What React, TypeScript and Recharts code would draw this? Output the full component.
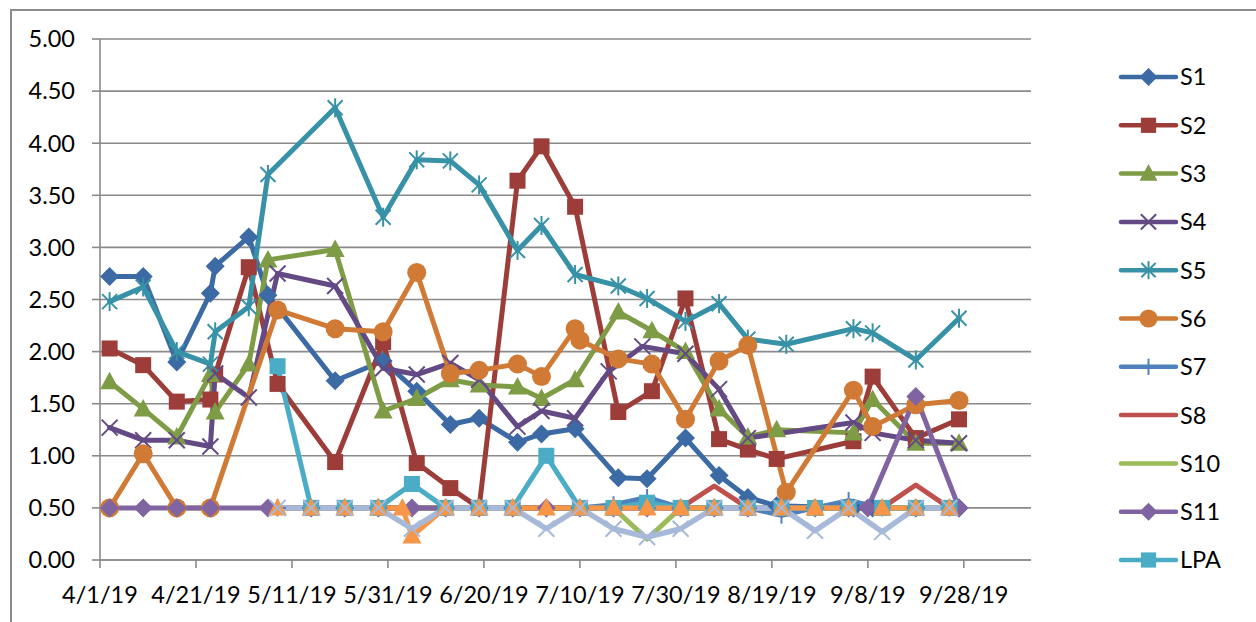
import React from "react";
import { LineChart, Line, XAxis, YAxis, CartesianGrid, Legend } from "recharts";

type Pt = [string, number];

// ---- data (dates are M/D in 2019) ----
const S1: Pt[] = [
  ["4/3", 2.72], ["4/10", 2.72], ["4/17", 1.9], ["4/24", 2.56], ["4/25", 2.82], ["5/2", 3.1], ["5/6", 2.54],
  ["5/20", 1.72], ["5/30", 1.91], ["6/6", 1.62], ["6/13", 1.3], ["6/19", 1.36], ["6/27", 1.13], ["7/2", 1.21],
  ["7/9", 1.26], ["7/18", 0.79], ["7/24", 0.78], ["8/1", 1.17], ["8/8", 0.81], ["8/14", 0.6], ["8/20", 0.52],
  ["9/5", 0.5], ["9/9", 0.5], ["9/18", 0.5], ["9/27", 0.5],
];
const S2: Pt[] = [
  ["4/3", 2.03], ["4/10", 1.87], ["4/17", 1.52], ["4/24", 1.54], ["4/25", 1.78], ["5/2", 2.81], ["5/8", 1.69],
  ["5/20", 0.94], ["5/30", 2.09], ["6/6", 0.93], ["6/13", 0.69], ["6/19", 0.5], ["6/27", 3.64], ["7/2", 3.97],
  ["7/9", 3.39], ["7/18", 1.42], ["7/25", 1.62], ["8/1", 2.51], ["8/8", 1.16], ["8/14", 1.06], ["8/20", 0.97],
  ["9/5", 1.14], ["9/9", 1.76], ["9/18", 1.17], ["9/27", 1.35],
];
const S3: Pt[] = [
  ["4/3", 1.71], ["4/10", 1.45], ["4/17", 1.18], ["4/24", 1.78], ["4/25", 1.42], ["5/2", 1.88], ["5/6", 2.88],
  ["5/20", 2.98], ["5/30", 1.43], ["6/6", 1.55], ["6/13", 1.73], ["6/19", 1.68], ["6/27", 1.66], ["7/2", 1.55],
  ["7/9", 1.73], ["7/18", 2.38], ["7/25", 2.2], ["8/1", 2.0], ["8/8", 1.45], ["8/14", 1.18], ["8/20", 1.25],
  ["9/5", 1.22], ["9/9", 1.54], ["9/18", 1.12], ["9/27", 1.12],
];
const S4: Pt[] = [
  ["4/3", 1.27], ["4/10", 1.15], ["4/17", 1.15], ["4/24", 1.09], ["4/25", 1.79], ["5/2", 1.56], ["5/8", 2.75],
  ["5/20", 2.63], ["5/30", 1.84], ["6/6", 1.78], ["6/13", 1.89], ["6/19", 1.73], ["6/27", 1.28], ["7/2", 1.43],
  ["7/9", 1.36], ["7/16", 1.81], ["7/23", 2.05], ["8/1", 1.98], ["8/8", 1.64], ["8/14", 1.17],
  ["9/5", 1.32], ["9/9", 1.22], ["9/18", 1.15], ["9/27", 1.12],
];
const S5: Pt[] = [
  ["4/3", 2.48], ["4/10", 2.62], ["4/17", 2.0], ["4/24", 1.88], ["4/25", 2.19], ["5/2", 2.43], ["5/6", 3.7],
  ["5/20", 4.34], ["5/30", 3.29], ["6/6", 3.84], ["6/13", 3.83], ["6/19", 3.6], ["6/27", 2.97], ["7/2", 3.21],
  ["7/9", 2.74], ["7/18", 2.63], ["7/24", 2.51], ["8/1", 2.29], ["8/8", 2.46], ["8/14", 2.12], ["8/22", 2.07],
  ["9/5", 2.22], ["9/9", 2.18], ["9/18", 1.92], ["9/27", 2.32],
];
const S6: Pt[] = [
  ["4/3", 0.5], ["4/10", 1.02], ["4/17", 0.5], ["4/24", 0.5], ["5/8", 2.4],
  ["5/20", 2.22], ["5/30", 2.19], ["6/6", 2.76], ["6/13", 1.79], ["6/19", 1.82], ["6/27", 1.88], ["7/2", 1.76],
  ["7/9", 2.22], ["7/10", 2.11], ["7/18", 1.93], ["7/25", 1.88], ["8/1", 1.35], ["8/8", 1.91], ["8/14", 2.06],
  ["8/22", 0.65], ["9/5", 1.63], ["9/9", 1.28], ["9/18", 1.49], ["9/27", 1.53],
];
const S11: Pt[] = [
  ["4/3", 0.5], ["4/10", 0.5], ["4/17", 0.5], ["4/24", 0.5], ["5/6", 0.5],
  ["5/15", 0.5], ["5/22", 0.5], ["5/29", 0.5], ["6/5", 0.5], ["6/12", 0.5], ["6/19", 0.5], ["6/26", 0.5],
  ["7/3", 0.5], ["7/10", 0.5], ["7/17", 0.5], ["7/24", 0.5], ["7/31", 0.5], ["8/7", 0.5], ["8/14", 0.5],
  ["8/21", 0.5], ["8/28", 0.5], ["9/4", 0.5], ["9/8", 0.5], ["9/18", 1.57], ["9/27", 0.5],
];

const WEEKLY = [
  "5/8", "5/15", "5/22", "5/29", "6/5", "6/12", "6/19", "6/26", "7/3", "7/10", "7/17",
  "7/24", "7/31", "8/7", "8/14", "8/21", "8/28", "9/4", "9/11", "9/18", "9/25",
];
const S7_VALUES = [0.5, 0.5, 0.5, 0.5, 0.5, 0.5, 0.5, 0.5, 0.5, 0.5, 0.53, 0.6, 0.5, 0.5, 0.5, 0.43, 0.5, 0.57, 0.5, 0.5, 0.5];
const S8_VALUES = [0.5, 0.5, 0.5, 0.5, 0.5, 0.5, 0.5, 0.5, 0.5, 0.5, 0.5, 0.5, 0.5, 0.71, 0.5, 0.5, 0.5, 0.5, 0.5, 0.72, 0.5];
const S10_VALUES = [0.5, 0.5, 0.5, 0.5, 0.5, 0.5, 0.5, 0.5, 0.5, 0.5, 0.5, 0.2, 0.5, 0.5, 0.5, 0.5, 0.5, 0.5, 0.5, 0.5, 0.5];
const LPA_VALUES = [1.86, 0.5, 0.5, 0.5, 0.73, 0.5, 0.5, 0.5, 1.0, 0.5, 0.5, 0.55, 0.5, 0.5, 0.5, 0.5, 0.5, 0.5, 0.5, 0.5, 0.5];
const S13_VALUES = [0.5, 0.5, 0.5, 0.5, 0.3, 0.5, 0.5, 0.5, 0.3, 0.5, 0.3, 0.22, 0.3, 0.5, 0.5, 0.5, 0.28, 0.5, 0.27, 0.5, 0.5];
const S12: Pt[] = [
  ["5/8", 0.5], ["5/15", 0.5], ["5/22", 0.5], ["5/29", 0.5], ["6/3", 0.5], ["6/5", 0.23], ["6/12", 0.5],
  ["6/19", 0.5], ["6/26", 0.5], ["7/3", 0.5], ["7/10", 0.5], ["7/17", 0.5], ["7/24", 0.5], ["7/31", 0.5],
  ["8/7", 0.5], ["8/14", 0.5], ["8/21", 0.5], ["8/28", 0.5], ["9/4", 0.5], ["9/11", 0.5], ["9/18", 0.5], ["9/25", 0.5],
];

const Y_TICKS = [0, 0.5, 1, 1.5, 2, 2.5, 3, 3.5, 4, 4.5, 5];
const X_TICK_LABELS = ["4/1/19", "4/21/19", "5/11/19", "5/31/19", "6/20/19", "7/10/19", "7/30/19", "8/19/19", "9/8/19", "9/28/19"];
const AXIS_END = "10/12";

// ---- helpers ----
const DAY0 = Date.UTC(2019, 3, 1);
const toDay = (s: string) => {
  const [m, d] = s.split("/").map(Number);
  return (Date.UTC(2019, m - 1, d) - DAY0) / 86400000;
};
const fromPairs = (p: Pt[]) => p.map(([d, v]) => ({ t: toDay(d), v }));
const fromWeekly = (vals: number[]) => WEEKLY.map((d, i) => ({ t: toDay(d), v: vals[i] }));
const X_TICKS = X_TICK_LABELS.map((s) => toDay(s.slice(0, s.lastIndexOf("/"))));
const tickLabel = (t: number) => X_TICK_LABELS[X_TICKS.indexOf(t)] ?? "";

type Shape = "diamond" | "square" | "triangle" | "x" | "star" | "circle" | "plus" | "none";

function Marker({ shape, color, cx, cy, s = 1 }: { shape: Shape; color: string; cx: number; cy: number; s?: number }) {
  if (cx == null || cy == null) return null;
  switch (shape) {
    case "diamond": {
      const r = 9.5 * s;
      return <polygon points={`${cx},${cy - r} ${cx + r},${cy} ${cx},${cy + r} ${cx - r},${cy}`} fill={color} />;
    }
    case "square": {
      const h = 8 * s;
      return <rect x={cx - h} y={cy - h} width={2 * h} height={2 * h} fill={color} />;
    }
    case "triangle": {
      const w = 9.5 * s;
      return <polygon points={`${cx},${cy - 10 * s} ${cx + w},${cy + 7.5 * s} ${cx - w},${cy + 7.5 * s}`} fill={color} />;
    }
    case "x": {
      const r = 8 * s;
      return (
        <g stroke={color} strokeWidth={2}>
          <line x1={cx - r} y1={cy - r} x2={cx + r} y2={cy + r} />
          <line x1={cx - r} y1={cy + r} x2={cx + r} y2={cy - r} />
        </g>
      );
    }
    case "star": {
      const r = 7.5 * s;
      return (
        <g stroke={color} strokeWidth={2}>
          <line x1={cx - r} y1={cy - r} x2={cx + r} y2={cy + r} />
          <line x1={cx - r} y1={cy + r} x2={cx + r} y2={cy - r} />
          <line x1={cx} y1={cy - 9.5 * s} x2={cx} y2={cy + 9.5 * s} />
        </g>
      );
    }
    case "circle":
      return <circle cx={cx} cy={cy} r={9.5 * s} fill={color} />;
    case "plus": {
      const r = 8.5 * s;
      return (
        <g stroke={color} strokeWidth={2}>
          <line x1={cx} y1={cy - r} x2={cx} y2={cy + r} />
          <line x1={cx - r} y1={cy} x2={cx + r} y2={cy} />
        </g>
      );
    }
    default:
      return null;
  }
}

type SeriesDef = { name: string; color: string; shape: Shape; data: { t: number; v: number }[]; width?: number; legend: boolean };

const SERIES: SeriesDef[] = [
  { name: "S1", color: "#3C6AA4", shape: "diamond", data: fromPairs(S1), legend: true },
  { name: "S2", color: "#9C3D3A", shape: "square", data: fromPairs(S2), legend: true },
  { name: "S3", color: "#7E9C45", shape: "triangle", data: fromPairs(S3), legend: true },
  { name: "S4", color: "#634A85", shape: "x", data: fromPairs(S4), legend: true },
  { name: "S5", color: "#3892A7", shape: "star", data: fromPairs(S5), legend: true },
  { name: "S6", color: "#D07A35", shape: "circle", data: fromPairs(S6), legend: true },
  { name: "S7", color: "#4F81BD", shape: "plus", data: fromWeekly(S7_VALUES), legend: true },
  { name: "S8", color: "#C0504D", shape: "none", data: fromWeekly(S8_VALUES), legend: true },
  { name: "S10", color: "#9BBB59", shape: "none", data: fromWeekly(S10_VALUES), legend: true },
  { name: "S11", color: "#8064A2", shape: "diamond", data: fromPairs(S11), legend: true },
  { name: "LPA", color: "#4BACC6", shape: "square", data: fromWeekly(LPA_VALUES), legend: true },
  { name: "S12", color: "#F79646", shape: "triangle", data: fromPairs(S12), legend: false },
  { name: "S13", color: "#A7B9D9", shape: "x", data: fromWeekly(S13_VALUES), width: 5.5, legend: false },
];

const FONT = "Lato, 'Open Sans', sans-serif";
const FS = 23.5;
const GRID = "#8A8A8A";

function LegendBox() {
  const items = SERIES.filter((s) => s.legend);
  return (
    <svg width={140} height={545} style={{ display: "block" }}>
      {items.map((s, i) => {
        const y = 27 + 48.3 * i;
        return (
          <g key={s.name}>
            <line x1={11} y1={y} x2={66} y2={y} stroke={s.color} strokeWidth={4.5} strokeLinecap="round" />
            <Marker shape={s.shape} color={s.color} cx={38.5} cy={y} s={0.95} />
            <text x={70} y={y} dy="0.36em" fontFamily={FONT} fontSize={FS} fill="#000">
              {s.name}
            </text>
          </g>
        );
      })}
    </svg>
  );
}

export default function App() {
  return (
    <div style={{ position: "fixed", left: 0, top: 0, width: 1256, height: 622, overflow: "hidden", background: "#fff" }}>
      <div style={{ position: "absolute", left: 10, top: 9, width: 1400, height: 800, border: "2px solid #8C8C8C" }} />
      <div style={{ position: "absolute", left: 0, top: 0 }}>
        <LineChart width={1256} height={622} margin={{ top: 39, right: 225, bottom: 0, left: 0 }}>
          <CartesianGrid horizontal vertical={false} stroke={GRID} strokeWidth={1.6} />
          <XAxis
            type="number"
            dataKey="t"
            domain={[0, toDay(AXIS_END)]}
            ticks={X_TICKS}
            tickFormatter={tickLabel}
            interval={0}
            height={62}
            tickSize={8}
            tickMargin={18}
            axisLine={{ stroke: GRID, strokeWidth: 1.6 }}
            tickLine={{ stroke: GRID, strokeWidth: 1.6 }}
            tick={{ fill: "#000", fontSize: FS, fontFamily: FONT }}
            allowDataOverflow
          />
          <YAxis
            type="number"
            domain={[0, 5]}
            ticks={Y_TICKS}
            tickFormatter={(v: number) => v.toFixed(2)}
            interval={0}
            width={100}
            tickSize={8}
            tickMargin={17}
            axisLine={{ stroke: GRID, strokeWidth: 1.6 }}
            tickLine={{ stroke: GRID, strokeWidth: 1.6 }}
            tick={{ fill: "#000", fontSize: FS, fontFamily: FONT }}
          />
          <Legend
            layout="vertical"
            align="center"
            verticalAlign="middle"
            wrapperStyle={{ left: 1110, top: 50, width: 140, height: 545 }}
            content={() => <LegendBox />}
          />
          {SERIES.map((s) => (
            <Line
              key={s.name}
              name={s.name}
              data={s.data}
              dataKey="v"
              type="linear"
              stroke={s.color}
              strokeWidth={s.width ?? 5}
              strokeLinejoin="round"
              strokeLinecap="round"
              isAnimationActive={false}
              activeDot={false}
              legendType={s.legend ? "line" : "none"}
              dot={(p: any) => (
                <Marker key={`${s.name}-${p.index}`} shape={s.shape} color={s.color} cx={p.cx} cy={p.cy} />
              )}
            />
          ))}
        </LineChart>
      </div>
    </div>
  );
}
